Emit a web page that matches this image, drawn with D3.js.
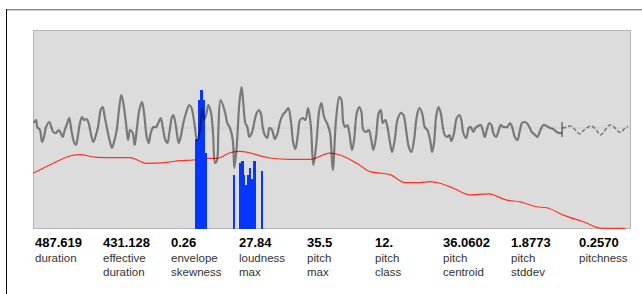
<!DOCTYPE html>
<html>
<head>
<meta charset="utf-8">
<script src="https://cdn.jsdelivr.net/npm/d3@7"></script>
<style>
  body { margin: 0; background: #fff; }
  svg { display: block; font-family: "Liberation Sans", Arial, sans-serif; }
</style>
</head>
<body>
<div id="chart"></div>
<script>
// track length (s) and the time axis span drawn in the panel
const duration = 487.619;
const timeSpan = [0, 490];

// waveform envelope [time s, amplitude -1..1]
const wave = [
  [0.8,0.05],[2.5,0.08],[3.5,0.01],[5.7,-0.02],[7.4,-0.14],[9.0,-0.09],[10.7,0.01],[13.4,0.06],[15.0,0.01],
  [16.6,-0.04],[18.8,-0.05],[21.1,-0.02],[22.7,-0.05],[24.3,-0.09],[26.0,-0.02],[28.1,0.05],[29.7,0.10],
  [31.4,-0.02],[33.6,-0.14],[35.2,-0.17],[36.9,-0.07],[38.5,0.05],[40.2,0.11],[41.8,0.08],[44.0,0.09],
  [45.6,0.05],[47.3,-0.05],[49.4,-0.14],[51.1,-0.09],[53.3,0.01],[55.5,0.18],[57.1,0.21],[58.8,0.11],
  [60.9,-0.02],[63.1,-0.14],[64.7,-0.20],[66.4,-0.14],[68.6,-0.02],[70.7,0.21],[72.4,0.33],[74.0,0.25],
  [76.2,0.05],[77.9,-0.12],[79.5,-0.02],[81.7,-0.05],[83.3,-0.17],[85.0,-0.02],[87.1,0.18],[89.3,0.26],
  [91.0,0.15],[93.2,-0.09],[94.8,-0.15],[96.5,-0.05],[98.6,0.01],[100.8,0.01],[103.0,0.06],[104.7,0.10],
  [106.3,0.01],[108.4,-0.12],[110.1,-0.15],[111.7,-0.05],[113.9,0.11],[115.0,0.13],[117.2,0.01],
  [119.4,-0.15],[121.0,-0.09],[123.2,0.05],[125.4,0.15],[128.1,0.23],[129.9,0.20],[132.2,0.05],
  [134.4,-0.12],[136.9,-0.02],[138.7,0.20],[140.4,0.08],[142.4,0.16],[143.7,0.23],[145.9,0.15],
  [147.5,-0.05],[149.2,-0.35],[150.8,-0.32],[151.9,-0.02],[153.7,0.28],[157.3,0.16],[159.2,0.05],
  [161.4,0.00],[163.7,-0.12],[165.0,-0.40],[166.9,-0.19],[169.1,0.25],[170.9,0.41],[172.3,0.25],
  [174.0,0.05],[175.6,0.01],[177.3,-0.09],[179.5,-0.04],[181.7,0.08],[183.3,0.15],[185.0,0.18],
  [186.6,0.15],[188.2,0.01],[189.9,-0.07],[192.0,-0.10],[193.7,0.00],[195.9,-0.02],[198.1,-0.11],
  [200.2,-0.06],[202.4,0.06],[204.6,0.13],[206.8,0.16],[209.2,0.20],[211.2,0.08],[213.3,-0.15],
  [215.0,-0.21],[217.2,-0.05],[218.8,0.08],[221.0,0.10],[223.2,0.08],[225.4,0.20],[227.6,0.03],
  [229.7,-0.37],[231.9,-0.19],[234.6,0.18],[236.3,0.25],[238.5,0.11],[241.2,0.04],[243.4,-0.05],
  [245.6,-0.42],[248.3,0.08],[251.0,0.31],[252.7,0.28],[254.3,0.05],[255.9,0.01],[257.6,0.03],
  [259.2,-0.05],[261.4,-0.22],[263.1,-0.12],[265.3,0.15],[267.4,0.21],[269.1,0.16],[270.7,-0.02],
  [272.9,-0.04],[275.1,-0.02],[277.2,-0.12],[278.9,-0.22],[281.1,-0.09],[283.3,0.15],[285.0,0.18],
  [286.6,0.05],[288.7,0.08],[290.4,0.01],[292.6,-0.15],[294.2,-0.24],[296.4,-0.12],[298.6,0.08],
  [301.3,0.15],[303.5,0.13],[305.7,-0.02],[307.9,-0.19],[310.0,-0.24],[312.2,-0.12],[314.4,0.11],
  [316.6,0.20],[318.8,0.15],[321.0,0.01],[323.1,-0.02],[325.4,-0.12],[327.0,-0.24],[328.6,-0.15],
  [330.3,0.11],[332.2,0.21],[334.1,0.15],[335.8,0.01],[337.4,-0.07],[339.5,-0.09],[341.2,-0.07],
  [342.8,-0.13],[345.0,-0.05],[347.2,0.10],[349.4,0.13],[351.0,0.08],[352.6,-0.05],[354.9,-0.10],
  [357.1,0.00],[358.7,0.01],[360.8,-0.04],[362.5,0.00],[364.7,0.02],[366.9,0.03],[368.5,-0.02],
  [370.2,-0.09],[371.8,-0.02],[374.0,0.05],[375.6,0.03],[377.2,-0.05],[379.4,-0.09],[381.7,-0.02],
  [383.3,0.03],[385.4,0.01],[387.1,0.01],[388.7,0.01],[390.9,0.05],[392.6,0.01],[394.8,-0.09],
  [396.9,-0.12],[398.5,-0.05],[400.7,0.05],[402.4,0.06],[404.6,0.05],[406.7,0.01],[408.7,-0.04],
  [411.4,-0.07],[413.3,-0.09],[415.5,-0.03],[418.2,0.03],[420.8,0.02],[423.7,0.00],[426.2,-0.01],
  [429.2,-0.04],[431.1,-0.05],[433.5,-0.05]
];

// fade-out tail, drawn dashed
const fadeStart = 433.5;
const fadeTail = [
  [433.5,0.00],[437.4,0.01],[440.1,0.02],[442.8,0.00],[445.8,-0.04],[448.3,-0.06],[450.7,-0.03],
  [453.8,0.00],[456.5,0.02],[459.2,0.01],[462.2,-0.03],[464.7,-0.07],[467.1,-0.05],[468.8,-0.02],
  [471.2,0.02],[472.9,0.03],[475.3,0.02],[478.4,-0.02],[480.2,-0.04],[482.5,-0.04],[484.3,-0.01],
  [486.6,0.01],[487.6,0.015]
];

// loudness curve [time s, dB]
const loudness = [
  [0.2,-43.2],[16.6,-40.2],[30.3,-38.0],[38.5,-37.6],[52.2,-38.4],[79.5,-38.5],[93.2,-40.2],
  [109.6,-39.9],[120.5,-39.4],[131.4,-39.2],[142.4,-38.7],[150.5,-38.7],[161.4,-37.0],[169.6,-36.6],
  [194.2,-38.6],[210.6,-39.0],[227.0,-39.0],[243.4,-37.1],[251.6,-37.7],[265.3,-40.2],[276.2,-42.7],
  [292.6,-43.6],[304.9,-46.0],[317.2,-46.0],[325.4,-45.7],[333.5,-46.2],[344.5,-47.7],[358.1,-49.7],
  [373.1,-49.4],[388.2,-51.3],[399.1,-51.8],[412.8,-53.3],[421.0,-53.6],[434.6,-55.8],[451.0,-57.8],
  [466.1,-59.8],[485.2,-59.8]
];

// blue bars: start, end (s), relative height
const barStart  = [132.8,134.8,136.9,139.3,141.0,163.5,168.8,170.5,172.3,173.7,175.4,177.0,178.7,180.3,186.9];
const barEnd    = [134.8,136.9,139.3,141.0,142.6,165.1,170.5,172.3,173.7,175.4,177.0,178.7,180.3,182.5,188.5];
const barHeight = [0.45,0.65,0.70,0.65,0.38,0.27,0.33,0.34,0.27,0.22,0.27,0.305,0.25,0.34,0.29];

// summary figures under the panel
const statValues = ["487.619","431.128","0.26","27.84","35.5","12.","36.0602","1.8773","0.2570"];
const statLabels = [["duration"],["effective","duration"],["envelope","skewness"],["loudness","max"],
  ["pitch","max"],["pitch","class"],["pitch","centroid"],["pitch","stddev"],["pitchness"]];

const W = 642, H = 294;
const svg = d3.select("#chart").append("svg")
  .attr("width", W)
  .attr("height", H);

// window frame
svg.append("line").attr("x1", 6).attr("x2", W).attr("y1", 9.5).attr("y2", 9.5)
  .attr("stroke", "#858585");
svg.append("line").attr("x1", 7).attr("x2", W).attr("y1", 10.5).attr("y2", 10.5)
  .attr("stroke", "#d0d0d0");
svg.append("line").attr("x1", 6.5).attr("x2", 6.5).attr("y1", 9).attr("y2", H)
  .attr("stroke", "#111");

// Scales
const x = d3.scaleLinear().domain(timeSpan).range([33, 631]);
const yAmp = d3.scaleLinear().domain([-1, 1]).range([228, 28]);
const yLoud = d3.scaleLinear().domain([-60, 0]).range([229, 30]);
const yBar = d3.scaleLinear().domain([0, 1]).range([229, 30]);

// panel
svg.append("rect")
  .attr("x", x(timeSpan[0]) + 0.5)
  .attr("y", yLoud(0) + 0.5)
  .attr("width", x(timeSpan[1]) - x(timeSpan[0]) - 1)
  .attr("height", yLoud(-60) - yLoud(0) - 1)
  .attr("fill", "#dbdcdb")
  .attr("stroke", "#b4b4b4");

svg.append("line")
  .attr("x1", x(timeSpan[0]) + 1).attr("x2", x(timeSpan[1]) - 1)
  .attr("y1", yAmp(0)).attr("y2", yAmp(0))
  .attr("stroke", "#cbcccb");

// loudness
const loudLine = d3.line()
  .x(d => x(d[0]))
  .y(d => yLoud(d[1]))
  .curve(d3.curveMonotoneX);

svg.append("path")
  .datum(loudness)
  .attr("d", loudLine)
  .attr("fill", "none")
  .attr("stroke", "#ff3320")
  .attr("stroke-width", 1.2);

// bars (crisp so neighbours merge into one block)
svg.append("g")
  .attr("shape-rendering", "crispEdges")
  .selectAll("rect")
  .data(barStart.map((s, i) => ({ s, e: barEnd[i], h: barHeight[i] })))
  .join("rect")
  .attr("x", d => x(d.s))
  .attr("width", d => x(d.e) - x(d.s) + 0.3)
  .attr("y", d => yBar(d.h))
  .attr("height", d => yBar(0) - yBar(d.h))
  .attr("fill", "#0536ff");

// waveform
const waveLine = d3.line()
  .x(d => x(d[0]))
  .y(d => yAmp(d[1]))
  .curve(d3.curveCatmullRom.alpha(0.5));

svg.append("path")
  .datum(wave)
  .attr("d", waveLine)
  .attr("fill", "none")
  .attr("stroke", "#000")
  .attr("stroke-opacity", 0.45)
  .attr("stroke-width", 2.2)
  .attr("stroke-linejoin", "round");

svg.append("path")
  .datum(fadeTail)
  .attr("d", waveLine)
  .attr("fill", "none")
  .attr("stroke", "#000")
  .attr("stroke-opacity", 0.45)
  .attr("stroke-width", 1.5)
  .attr("stroke-dasharray", "4,2");

svg.append("line")
  .attr("x1", x(fadeStart)).attr("x2", x(fadeStart))
  .attr("y1", yAmp(0.06)).attr("y2", yAmp(-0.09))
  .attr("stroke", "#333");

// stats row
const col = d3.scaleBand().domain(d3.range(statValues.length)).range([35, 35 + 68 * statValues.length]);

const stat = svg.append("g").selectAll("g")
  .data(statValues)
  .join("g")
  .attr("transform", (d, i) => `translate(${col(i)},0)`);

stat.append("text")
  .attr("y", 246.5)
  .style("font-size", "13px")
  .style("font-weight", "bold")
  .attr("fill", "#000")
  .text(d => d);

stat.each(function(d, i) {
  d3.select(this).selectAll(".lbl")
    .data(statLabels[i])
    .join("text")
    .attr("class", "lbl")
    .attr("y", (t, j) => 262 + j * 14)
    .style("font-size", "11.5px")
    .attr("fill", "#333")
    .text(t => t);
});
</script>
</body>
</html>
